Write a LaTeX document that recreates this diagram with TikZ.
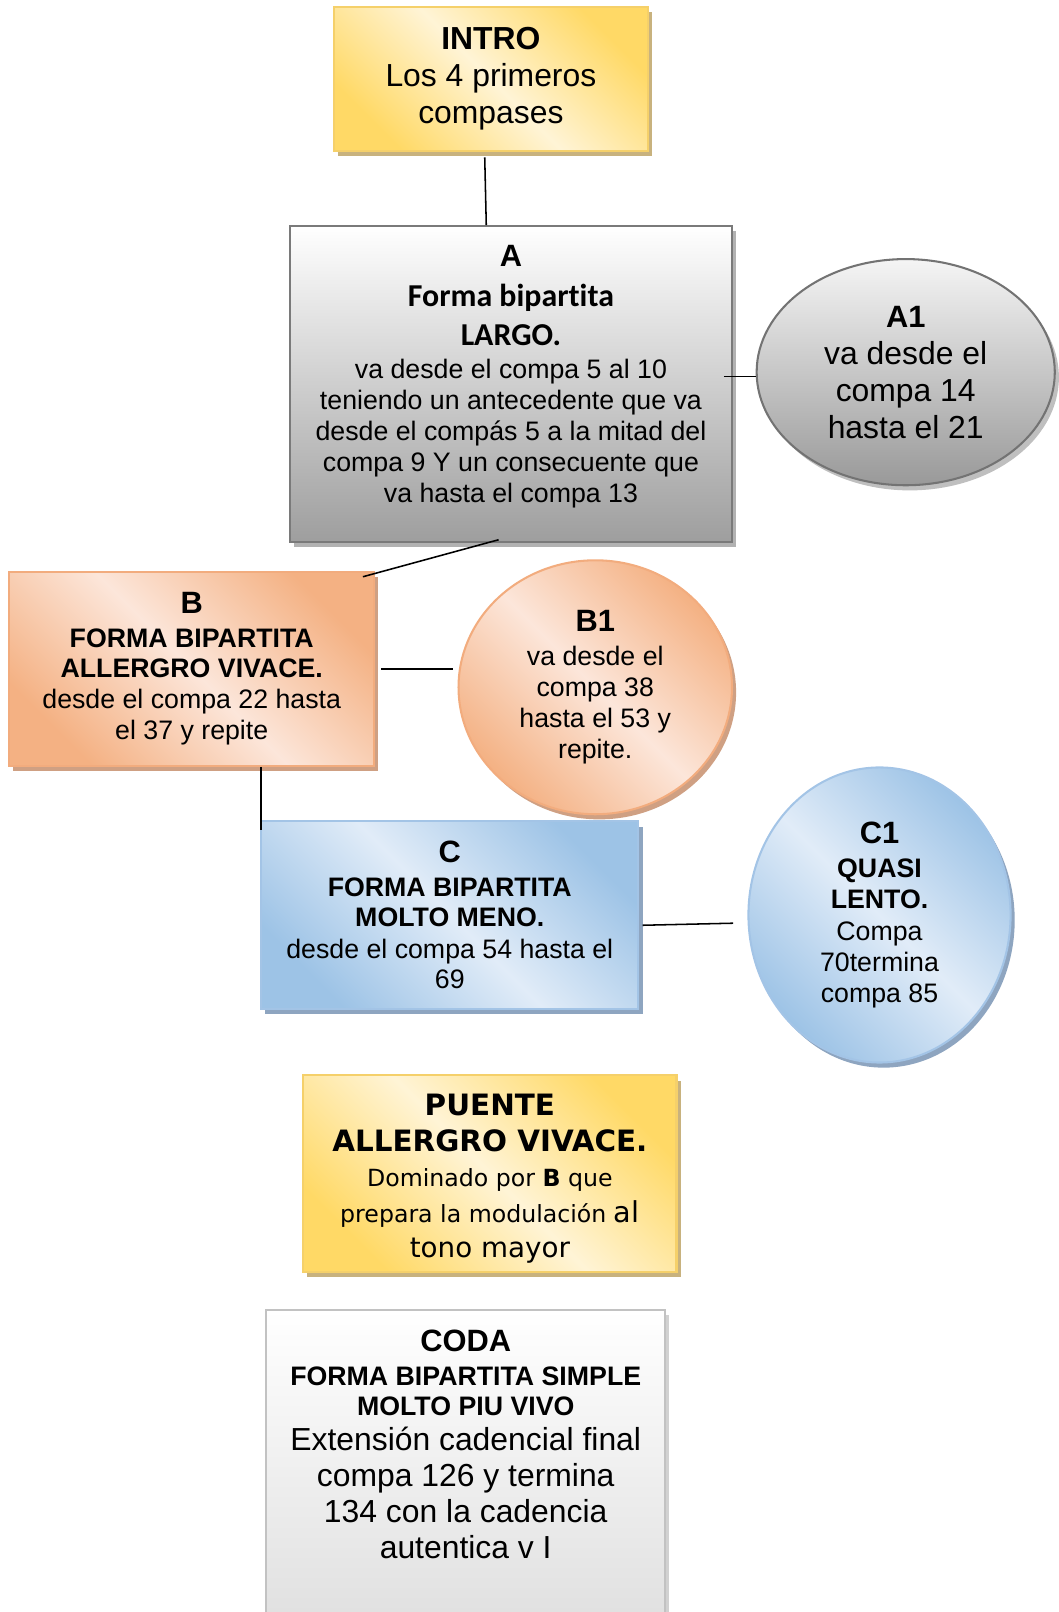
\documentclass[tikz,border=0pt]{standalone}
\usepackage{fontspec}
\setmainfont{Liberation Sans}
\newfontfamily\calfont[Ligatures=NoCommon]{Carlito}
\newfontfamily\verfont{DejaVu Sans}
\usetikzlibrary{shapes.geometric,shadows}

\definecolor{ydark}{HTML}{FFD966}
\definecolor{ylight}{HTML}{FFF4D6}
\definecolor{yborder}{HTML}{F5D06A}
\definecolor{yshadow}{HTML}{C8B27E}
\definecolor{odark}{HTML}{F4B183}
\definecolor{olight}{HTML}{FCE6DA}
\definecolor{oborder}{HTML}{F2AC7E}
\definecolor{oshadow}{HTML}{CFA083}
\definecolor{bdark}{HTML}{9DC3E6}
\definecolor{blight}{HTML}{E1ECF8}
\definecolor{bborder}{HTML}{A3C4E6}
\definecolor{bshadow}{HTML}{8EA5C0}

\pgfdeclarehorizontalshading{yshade}{100bp}{color(0bp)=(ydark); color(25bp)=(ydark); color(50bp)=(ylight); color(75bp)=(ydark); color(100bp)=(ydark)}
\pgfdeclarehorizontalshading{oshade}{100bp}{color(0bp)=(odark); color(25bp)=(odark); color(50bp)=(olight); color(75bp)=(odark); color(100bp)=(odark)}
\pgfdeclarehorizontalshading{bshade}{100bp}{color(0bp)=(bdark); color(25bp)=(bdark); color(50bp)=(blight); color(75bp)=(bdark); color(100bp)=(bdark)}

\begin{document}
\begin{tikzpicture}[x=0.5pt,y=-0.5pt,
    box/.style={rectangle,inner sep=0pt,align=center,line width=1pt},
    oval/.style={ellipse,inner sep=0pt,align=center,line width=1pt},
    ybox/.style={box,draw=yborder,shade,shading=yshade,shading angle=45,
      general shadow={fill=yshadow,shadow xshift=2pt,shadow yshift=-2.5pt}},
    obox/.style={draw=oborder,shade,shading=oshade,shading angle=45,
      general shadow={fill=oshadow,shadow xshift=2pt,shadow yshift=-2.5pt}},
    bbox/.style={draw=bborder,shade,shading=bshade,shading angle=45,
      general shadow={fill=bshadow,shadow xshift=2pt,shadow yshift=-2.5pt}},
    link/.style={line width=0.75pt}]

  \node (intro) at (477.5,77) [ybox,minimum width=152.5pt,minimum height=70pt,font=\fontsize{15.5}{18}\selectfont]
    {\textbf{INTRO}\\Los 4 primeros\\compases};

  \node (a) at (497,373.5) [box,draw=black!52,top color=white,bottom color=black!38,
    general shadow={fill=black!30,shadow xshift=2pt,shadow yshift=-2.5pt},
    minimum width=215pt,minimum height=153.5pt,font=\fontsize{13}{15}\selectfont]
    {{\bfseries\fontsize{15}{18}\selectfont A}\\[4.5pt]
     {\calfont\bfseries\fontsize{15.5}{19}\selectfont Forma bipartita}\\[4pt]
     {\calfont\bfseries\fontsize{15.5}{19}\selectfont LARGO.}\\[1pt]
     va desde el compa 5 al 10\\teniendo un antecedente que va\\desde el compás 5 a la mitad del\\compa 9 Y un consecuente que\\va hasta el compa 13\rule[-10pt]{0pt}{10pt}};

  \node (a1) at (881,362) [oval,draw=black!55,top color=black!4,bottom color=black!40,
    general shadow={fill=black!25,shadow xshift=2pt,shadow yshift=-2.5pt},
    minimum width=145pt,minimum height=110pt,font=\fontsize{15.5}{18}\selectfont]
    {{\bfseries\fontsize{15}{18}\selectfont A1}\\va desde el\\compa 14\\hasta el 21};

  \node (b) at (186.5,650.5) [box,obox,minimum width=177.5pt,minimum height=94.5pt,font=\fontsize{13}{15}\selectfont]
    {{\bfseries\fontsize{15}{18}\selectfont B}\\[1.5pt]\textbf{FORMA BIPARTITA}\\[-0.5pt]\textbf{ALLERGRO VIVACE.}\\[0.5pt]
     desde el compa 22 hasta\\el 37 y repite};

  \node (b1) at (579,668.5) [oval,obox,minimum width=133pt,minimum height=123.5pt,font=\fontsize{13}{15}\selectfont]
    {{\bfseries\fontsize{15}{18}\selectfont B1}\\[1.5pt]va desde el\\compa 38\\hasta el 53 y\\repite.};

  \node (c) at (437.5,890) [box,bbox,minimum width=183.5pt,minimum height=91pt,font=\fontsize{13}{15}\selectfont]
    {{\bfseries\fontsize{15}{18}\selectfont C}\\[1.5pt]\textbf{FORMA BIPARTITA}\\[-0.5pt]\textbf{MOLTO MENO.}\\[0.5pt]
     desde el compa 54 hasta el\\69};

  \node (c1) at (855.5,890) [oval,bbox,minimum width=127.5pt,minimum height=143.5pt,font=\fontsize{13}{15}\selectfont]
    {{\bfseries\fontsize{15}{18}\selectfont C1}\\[1.5pt]\textbf{QUASI}\\\textbf{LENTO.}\\[0.5pt]Compa\\70termina\\compa 85};

  \node (puente) at (476.5,1141.5) [ybox,minimum width=181.5pt,minimum height=95.5pt,font=\verfont\fontsize{11.5}{17.25}\selectfont]
    {{\bfseries\fontsize{14.3}{17}\selectfont\rule{0pt}{15.5pt}PUENTE}\\{\bfseries\fontsize{14.3}{17}\selectfont ALLERGRO VIVACE.}\\
     Dominado por \textbf{B} que\\prepara la modulación {\fontsize{14}{17}\selectfont al}\\{\fontsize{13.5}{17}\selectfont tono mayor}};

  % runs off the bottom of the page
  \node (coda) at (453,1462) [box,draw=black!24,top color=white,bottom color=black!15,
    general shadow={fill=black!18,shadow xshift=2pt,shadow yshift=-2.5pt},
    minimum width=194pt,minimum height=188pt,font=\fontsize{15.5}{17.5}\selectfont]
    {{\bfseries\fontsize{15}{18}\selectfont CODA}\\[-1pt]
     {\bfseries\fontsize{13}{15}\selectfont FORMA BIPARTITA SIMPLE}\\[-3pt]
     {\bfseries\fontsize{13}{15}\selectfont MOLTO PIU VIVO}\\[-0.5pt]
     Extensión cadencial final\\compa 126 y termina\\134 con la cadencia\\autentica v I\rule[-57pt]{0pt}{57pt}};

  \draw[link] ([xshift=-3pt,yshift=-2.5pt]intro.south) -- ([xshift=-12pt]a.north);
  \draw[link] ([xshift=-4.5pt,yshift=-2pt]a.east |- a1.west) -- ([yshift=-2pt]a1.west);
  \draw[link] ([xshift=-6pt,yshift=1.5pt]a.south) -- ([xshift=-6pt,yshift=-3pt]b.north east);
  \draw[link] ([xshift=3pt]b.east) -- ([xshift=-2pt]b1.west |- b.east);
  \draw[link] ([xshift=0.5pt]c.north west |- b.south) -- ([xshift=0.5pt,yshift=-4.5pt]c.north west);
  \draw[link] ([xshift=1.5pt,yshift=-5pt]c.east) -- ([xshift=-7pt,yshift=-4pt]c1.west);

  \pgfresetboundingbox
  \useasboundingbox (0,0) rectangle (1030,1568);
\end{tikzpicture}
\end{document}
